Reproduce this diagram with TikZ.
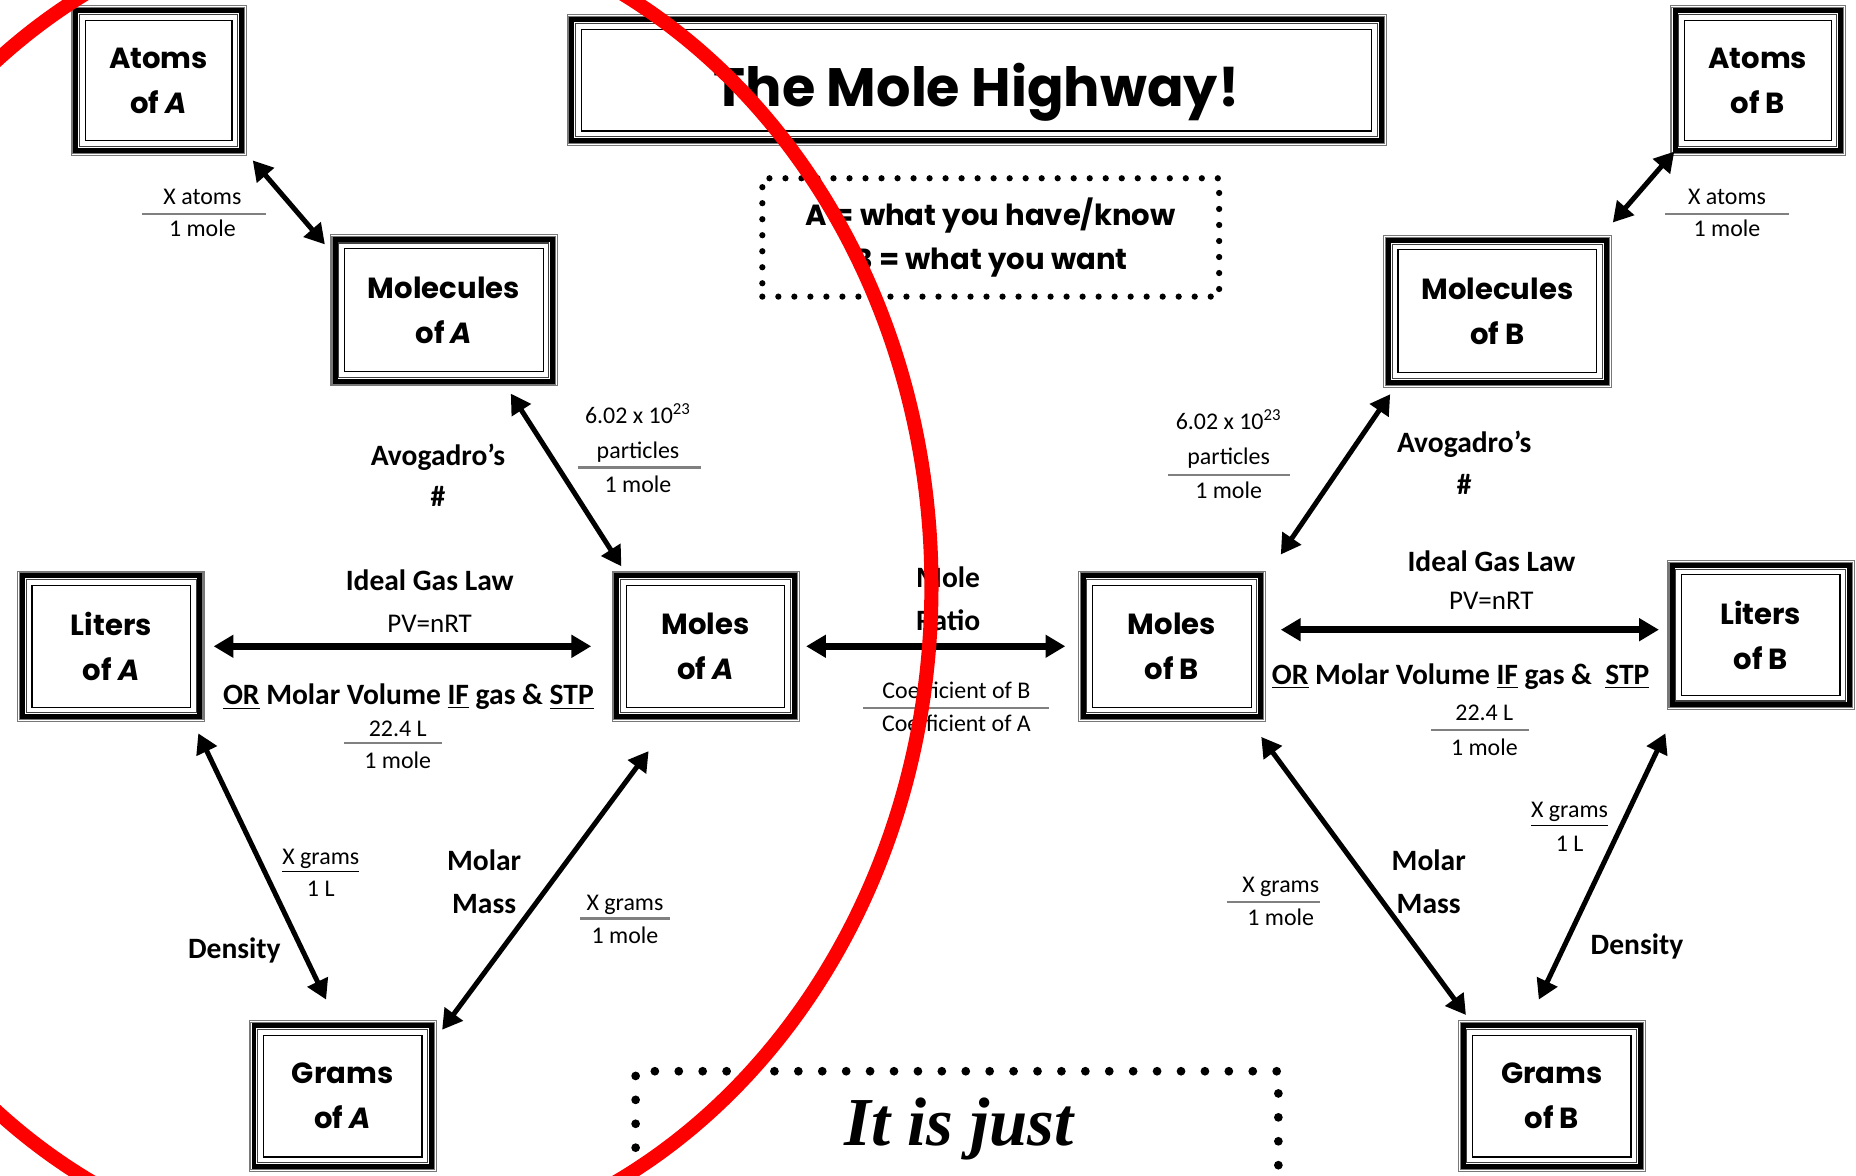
\documentclass[tikz,border=0pt]{standalone}
\usepackage{fontspec}
\usepackage{tikz}
\usetikzlibrary{arrows.meta}
\newfontfamily\comicfont{Poppins}
\newfontfamily\calibfont{Carlito}
\newfontfamily\mottofont{Liberation Serif}
\definecolor{marker}{RGB}{255,0,0}
\definecolor{rim}{RGB}{120,120,120}

\begin{document}
\begin{tikzpicture}[x=0.02cm, y=-0.02cm,
  mbox/.style={draw, line width=0.6pt, inner sep=0pt, align=center,
    font=\comicfont\bfseries\fontsize{14}{21.6}\selectfont},
  abox/.style={mbox, minimum width=2.48cm, minimum height=2.04cm},
  wbox/.style={mbox, minimum width=3.36cm, minimum height=2.08cm},
  sbox/.style={mbox, minimum width=2.68cm, minimum height=2.06cm},
  arr/.style={<->, >={Triangle[length=9.5pt,width=10.5pt]}, line width=2.4pt},
  harr/.style={arr, line width=3.4pt},
  law/.style={font=\calibfont\bfseries\fontsize{14.2}{20}\selectfont, anchor=base, inner sep=0pt},
  eqn/.style={font=\calibfont\fontsize{13}{20}\selectfont, anchor=base, inner sep=0pt},
  fr/.style={font=\calibfont\fontsize{11.5}{16}\selectfont, anchor=base, inner sep=0pt},
  frule/.style={line width=1.1pt, black!50},
  dots/.style={line width=3pt, line cap=round, dash pattern=on 0pt off 7.7pt},
  bigdots/.style={line width=4.2pt, line cap=round, dash pattern=on 0pt off 11.5pt}
]
  \useasboundingbox (0,0) rectangle (1568,993);
  \clip (0,0) rectangle (1568,993);
  \fill[white] (0,0) rectangle (1568,993);

  % Title and key
  \node[mbox, minimum width=13.36cm, minimum height=1.72cm, text height=25pt, text depth=0pt,
    font=\comicfont\bfseries\fontsize{26}{30}\selectfont] (title) at (825,67.6) {The Mole Highway!};
  \node[draw, dots, minimum width=7.72cm, minimum height=2cm, align=center,
    font=\comicfont\bfseries\fontsize{14}{21}\selectfont] (key) at (837,200.6)
    {\raisebox{-3pt}{A = what you have/know}\\\raisebox{-3pt}{B = what you want}};

  % Boxes
  \node[abox] (atomA) at (134,68) {Atoms\\of \textit{A}};
  \node[wbox] (molA) at (375,262) {Molecules\\of \textit{A}};
  \node[abox] (atomB) at (1485,68) {Atoms\\of B};
  \node[wbox] (molB) at (1265,263) {Molecules\\of B};
  \node[sbox] (litA) at (94,546) {Liters\\of \textit{A}};
  \node[sbox] (molesA) at (596,546) {Moles\\of \textit{A}};
  \node[sbox] (molesB) at (990,546) {Moles\\of B};
  \node[sbox, minimum height=2.04cm] (litB) at (1487.5,536.5) {Liters\\of B};
  \node[sbox] (gramsA) at (289.5,926) {Grams\\of \textit{A}};
  \node[sbox] (gramsB) at (1311,926) {Grams\\of B};

  % Frames
  \foreach \n in {title,atomA,molA,atomB,molB,litA,molesA,molesB,litB,gramsA,gramsB}{
    \draw[line width=0.5pt, black!75] ([shift={(-4.2,-4.2)}]\n.north west) rectangle ([shift={(4.2,4.2)}]\n.south east);
    \draw[line width=2.4pt] ([shift={(-7.4,-7.4)}]\n.north west) rectangle ([shift={(7.4,7.4)}]\n.south east);
    \draw[line width=0.5pt, rim] ([shift={(-10,-10)}]\n.north west) rectangle ([shift={(10,10)}]\n.south east);
    \draw[line width=0.4pt, rim] ([shift={(-11.5,-11.5)}]\n.north west) rectangle ([shift={(11.5,11.5)}]\n.south east);
  }

  % Arrows
  \draw[arr] ([shift={(17,16)}]atomA.south east) -- ([shift={(-16,-3)}]molA.north west);
  \draw[arr] ([shift={(-8,8.5)}]atomB.south west) -- ([shift={(13,-22.5)}]molB.north east);
  \draw[arr] ([shift={(-28,18)}]molA.south east) -- ([shift={(-3.5,-15.5)}]molesA.north west);
  \draw[arr] ([shift={(-6,17.5)}]molB.south west) -- ([shift={(24.5,-25.5)}]molesB.north east);
  \draw[harr] ([shift={(19,0)}]litA.east) -- ([shift={(-29,0)}]molesA.west);
  \draw[harr] ([shift={(17.5,0)}]molesA.east) -- ([shift={(-22.5,0)}]molesB.west);
  \draw[harr] ([shift={(24.5,-14)}]molesB.east) -- ([shift={(-18.5,-4.5)}]litB.west);
  \draw[arr] ([shift={(6,21.5)}]litA.south east) -- ([shift={(-14,-29.5)}]gramsA.north);
  \draw[arr] ([shift={(19.5,36.5)}]molesA.south west) -- ([shift={(16.5,-4)}]gramsA.north east);
  \draw[arr] ([shift={(8,24.5)}]molesB.south east) -- ([shift={(-5,-16.5)}]gramsB.north west);
  \draw[arr] ([shift={(-13,31.5)}]litB.south west) -- ([shift={(-11,-29.5)}]gramsB.north);

  % Atoms <-> molecules
  \node[fr] (xatA) at (171,173) {X atoms};
  \draw[frule] (120,181) -- (225,181);
  \node[fr] (xatAd) at (171,200) {1 mole};
  \node[fr] (xatB) at (1459,173) {X atoms};
  \draw[frule] (1407,181) -- (1511,181);
  \node[fr] (xatBd) at (1459,200) {1 mole};

  % Avogadro
  \node[law] (avoA) at (370,393.5) {Avogadro’s};
  \node[law] (avoAh) at (370,427.5) {\#};
  \node[fr] (numA) at (539,358) {6.02 x 10\textsuperscript{23}};
  \node[fr] (partA) at (539,387) {particles};
  \draw[frule] (488,395) -- (592,395);
  \node[fr] (numAd) at (539,416) {1 mole};
  \node[law] (avoB) at (1237,382.5) {Avogadro’s};
  \node[law] (avoBh) at (1237,417.5) {\#};
  \node[fr] (numB) at (1038,363) {6.02 x 10\textsuperscript{23}};
  \node[fr] (partB) at (1038,392) {particles};
  \draw[frule] (987,401) -- (1090,401);
  \node[fr] (numBd) at (1038,421) {1 mole};

  % Gas law
  \node[law] (igA) at (363,498.5) {Ideal Gas Law};
  \node[eqn] (pvA) at (363,534) {PV=nRT};
  \node[law] (mvA) at (345,595.5) {\underline{OR} Molar Volume \underline{IF} gas \& \underline{STP}};
  \node[fr] (vlA) at (336,622) {22.4 L};
  \draw[frule] (291,628) -- (373,628);
  \node[fr] (vlAd) at (336,649) {1 mole};
  \node[law] (igB) at (1260,482.5) {Ideal Gas Law};
  \node[eqn] (pvB) at (1260,515) {PV=nRT};
  \node[law] (mvB) at (1234,578.5) {\underline{OR} Molar Volume \underline{IF} gas \&\ \ \underline{STP}};
  \node[fr] (vlB) at (1254,609) {22.4 L};
  \draw[frule] (1209,617) -- (1292,617);
  \node[fr] (vlBd) at (1254,638) {1 mole};

  % Mole ratio
  \node[law] (mr1) at (801,496.5) {Mole};
  \node[law] (mr2) at (801,532.5) {Ratio};
  \node[fr] (coB) at (808,590) {Coefficient of B};
  \draw[frule] (729,598) -- (886,598);
  \node[fr] (coA) at (808,618) {Coefficient of A};

  % Density and molar mass
  \node[fr] (dnA) at (271,730) {\underline{X grams}};
  \node[fr] (dnAd) at (271,757) {1 L};
  \node[law] (denA) at (198,809.5) {Density};
  \node[law] (mmA1) at (409,735.5) {Molar};
  \node[law] (mmA2) at (409,771.5) {Mass};
  \node[fr] (gmA) at (528,769) {X grams};
  \draw[frule] (490,776) -- (566,776);
  \node[fr] (gmAd) at (528,797) {1 mole};
  \node[fr] (dnB) at (1326,691) {\underline{X grams}};
  \node[fr] (dnBd) at (1326,719) {1 L};
  \node[law] (denB) at (1383,806.5) {Density};
  \node[law] (mmB1) at (1207,735.5) {Molar};
  \node[law] (mmB2) at (1207,771.5) {Mass};
  \node[fr] (gmB) at (1082,754) {X grams};
  \draw[frule] (1037,762) -- (1115,762);
  \node[fr] (gmBd) at (1082,782) {1 mole};

  % Bottom note
  \draw[bigdots] (537,1010) -- (537,905) -- (1080,905) -- (1080,1010);
  \node[font=\mottofont\bfseries\itshape\fontsize{33}{40}\selectfont] (motto) at (810,954) {It is just};

  % Red mark
  \draw[marker, line width=6.8pt] (299,495) ellipse [x radius=9.76cm, y radius=11.3cm];
\end{tikzpicture}
\end{document}
